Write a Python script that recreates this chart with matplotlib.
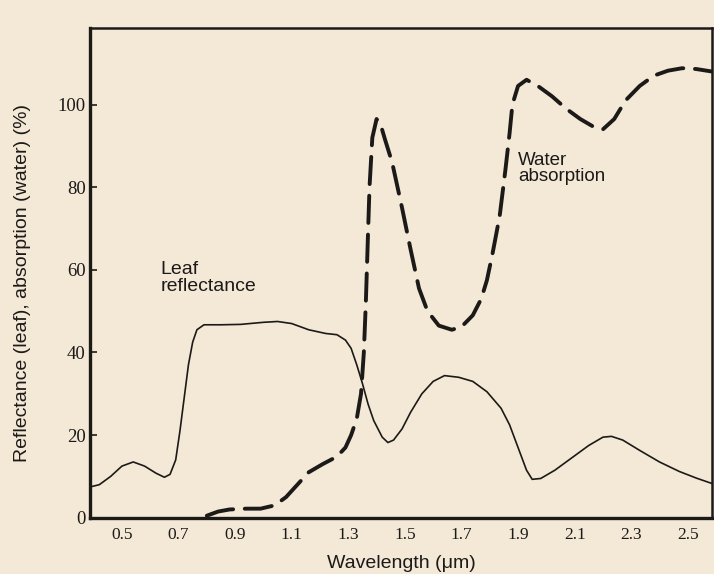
import matplotlib
matplotlib.use("Agg")
import matplotlib.pyplot as plt

# Leaf reflectance (solid)
leaf_x = [0.39, 0.42, 0.46, 0.50, 0.54, 0.58, 0.62, 0.65, 0.67, 0.69, 0.705, 0.72, 0.735, 0.75, 0.765,
          0.79, 0.85, 0.92, 1.00, 1.05, 1.10, 1.16, 1.22, 1.26, 1.29, 1.31, 1.33, 1.35, 1.37, 1.39,
          1.42, 1.44, 1.46, 1.49, 1.52, 1.56, 1.60, 1.64, 1.69, 1.74, 1.79, 1.84, 1.87, 1.90, 1.93,
          1.95, 1.98, 2.03, 2.09, 2.15, 2.20, 2.23, 2.27, 2.33, 2.40, 2.47, 2.53, 2.585]
leaf_y = [7.5, 8.0, 10.0, 12.5, 13.5, 12.5, 10.8, 9.8, 10.5, 14.0, 21.0, 29.0, 37.0, 42.5, 45.5,
          46.7, 46.7, 46.8, 47.3, 47.5, 47.0, 45.5, 44.6, 44.3, 43.0, 41.0, 37.0, 32.5, 27.5, 23.5,
          19.5, 18.2, 18.8, 21.5, 25.5, 30.0, 33.0, 34.4, 34.0, 33.0, 30.5, 26.5, 22.5, 17.0, 11.5,
          9.3, 9.5, 11.5, 14.5, 17.5, 19.5, 19.7, 18.8, 16.3, 13.5, 11.2, 9.6, 8.3]

# Water absorption (dashed)
water_x = [0.80, 0.84, 0.88, 0.94, 0.99, 1.04, 1.08, 1.12, 1.16, 1.21, 1.26, 1.29, 1.31, 1.33,
           1.345, 1.355, 1.362, 1.368, 1.375, 1.385, 1.40, 1.415, 1.43, 1.455, 1.49, 1.52, 1.55,
           1.58, 1.62, 1.666, 1.70, 1.74, 1.77, 1.79, 1.81, 1.835, 1.855, 1.87, 1.88, 1.90, 1.93,
           1.97, 2.02, 2.07, 2.12, 2.17, 2.20, 2.24, 2.28, 2.33, 2.38, 2.43, 2.48, 2.53, 2.585]
water_y = [0.5, 1.5, 2.0, 2.2, 2.2, 3.0, 5.0, 8.0, 11.0, 13.0, 14.8, 17.0, 20.0, 24.0,
           30.0, 40.0, 52.0, 65.0, 80.0, 92.0, 96.5, 95.0, 91.5, 86.0, 75.0, 65.0, 55.5,
           50.0, 46.5, 45.5, 46.2, 49.0, 53.0, 57.5, 64.0, 73.0, 84.0, 93.0, 100.0, 104.5, 106.0,
           104.5, 102.0, 99.0, 96.5, 94.5, 94.0, 96.5, 101.0, 104.5, 107.0, 108.2, 108.8, 108.6, 108.0]

xticks = [0.5, 0.7, 0.9, 1.1, 1.3, 1.5, 1.7, 1.9, 2.1, 2.3, 2.5]
xticklabels = ["0.5", "0.7", "0.9", "1.1", "1.3", "1.5", "1.7", "1.9", "2.1", "2.3", "2.5"]
yticks = [0, 20, 40, 60, 80, 100]
yticklabels = ["0", "20", "40", "60", "80", "100"]

bg = "#f4e8d6"
ink = "#1c1a18"
sans = ['Liberation Sans', 'DejaVu Sans']

plt.rcParams['font.family'] = ['Liberation Serif', 'DejaVu Serif']

fig = plt.figure(figsize=(7.14, 5.74), dpi=100, facecolor=bg)
ax = fig.add_axes([0.126, 0.098, 0.871, 0.853], facecolor=bg)

ax.plot(leaf_x, leaf_y, color=ink, lw=1.2, solid_joinstyle='round')
ax.plot(water_x, water_y, color=ink, lw=2.8, dashes=(7, 3), dash_capstyle='round')

ax.set_xlim(0.387, 2.585)
ax.set_ylim(0, 118.5)

ax.set_xticks(xticks)
ax.set_xticklabels(xticklabels)
ax.set_yticks(yticks)
ax.set_yticklabels(yticklabels)
ax.tick_params(axis='x', length=0, pad=7, labelsize=12.5, colors=ink)
ax.tick_params(axis='y', direction='in', length=5, width=1.2, pad=3, labelsize=13.5, colors=ink)

for s in ax.spines.values():
    s.set_color(ink)
ax.spines['left'].set_linewidth(2.4)
ax.spines['bottom'].set_linewidth(2.4)
ax.spines['top'].set_linewidth(1.8)
ax.spines['right'].set_linewidth(1.8)

ax.text(0.635, 58.0, "Leaf\nreflectance", fontsize=14, color=ink, ha='left', va='center',
        linespacing=0.95, family=sans)
ax.text(1.9, 84.5, "Water\nabsorption", fontsize=13.5, color=ink, ha='left', va='center',
        linespacing=0.95, family=sans)

ax.set_xlabel("Wavelength (\u03bcm)", fontsize=14, color=ink, labelpad=8, family=sans)
ax.set_ylabel("Reflectance (leaf), absorption (water) (%)", fontsize=14, color=ink,
              family=sans)
ax.yaxis.set_label_coords(-0.095, 0.48)

fig.savefig("out.png", dpi=100, facecolor=bg)
